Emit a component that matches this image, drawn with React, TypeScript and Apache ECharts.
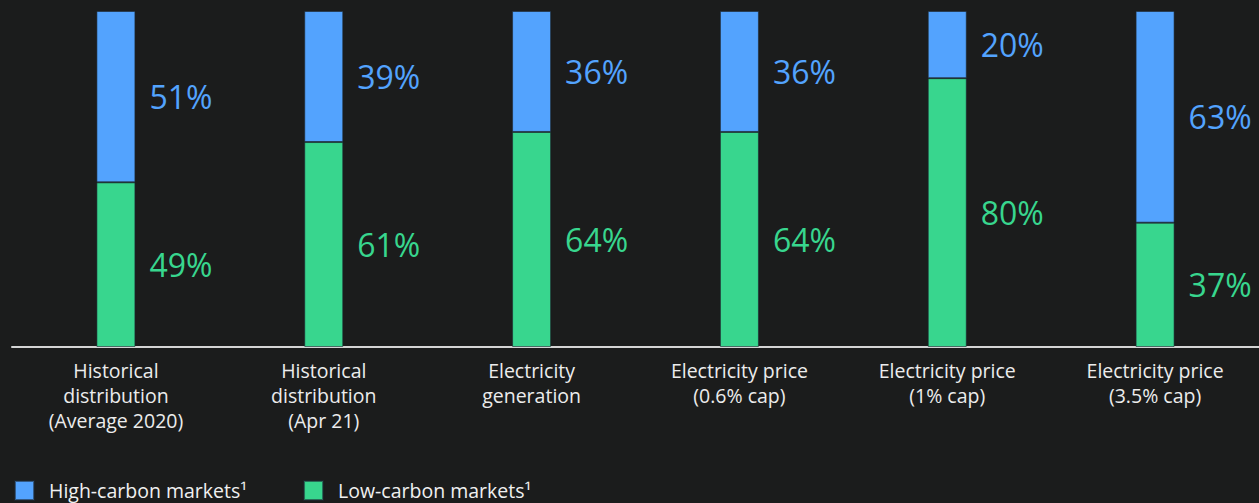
import React, { useEffect, useRef } from "react";
import * as echarts from "echarts";

const categories = [
  "Historical\ndistribution\n(Average 2020)",
  "Historical\ndistribution\n(Apr 21)",
  "Electricity\ngeneration",
  "Electricity price\n(0.6% cap)",
  "Electricity price\n(1% cap)",
  "Electricity price\n(3.5% cap)",
];
const lowCarbon = [49, 61, 64, 64, 80, 37];
const highCarbon = [51, 39, 36, 36, 20, 63];
const seriesNames = ["High-carbon markets\u00b9", "Low-carbon markets\u00b9"];

const BLUE = "#53a3fe";
const GREEN = "#38d68e";
const BG = "#1b1c1c";

export default function App() {
  const ref = useRef<HTMLDivElement>(null);
  useEffect(() => {
    document.body.style.margin = "0";
    const chart = echarts.init(ref.current!, null, { renderer: "svg" });
    const labelBase = {
      show: true,
      position: "right" as const,
      distance: 14,
      fontSize: 32,
      fontFamily: "Open Sans",
      formatter: "{c}%",
    };
    chart.setOption({
      animation: false,
      backgroundColor: BG,
      grid: { left: 12, right: 0, top: 11, bottom: 156, containLabel: false },
      legend: {
        left: 14,
        top: 480,
        padding: 0,
        itemWidth: 19,
        itemHeight: 19,
        itemGap: 56,
        icon: "rect",
        data: [seriesNames[0], seriesNames[1]],
        textStyle: {
          color: "#f0f0f0",
          fontSize: 19.5,
          lineHeight: 19,
          fontWeight: 500,
          fontFamily: "Open Sans",
          padding: [0, 0, 0, 10],
        },
      },
      xAxis: {
        type: "category",
        data: categories,
        axisLine: { show: true, lineStyle: { color: "#d4d4d4", width: 2 } },
        axisTick: { show: false },
        axisLabel: {
          interval: 0,
          color: "#ececec",
          fontSize: 19.5,
          fontWeight: 500,
          lineHeight: 25,
          fontFamily: "Open Sans",
          margin: 11,
        },
      },
      yAxis: { type: "value", min: 0, max: 100, show: false, splitLine: { show: false } },
      series: [
        {
          name: seriesNames[1],
          type: "bar",
          stack: "total",
          data: lowCarbon,
          barWidth: 39,
          itemStyle: { color: GREEN, borderColor: "rgba(30,40,50,0.6)", borderWidth: 1 },
          label: { ...labelBase, color: GREEN },
        },
        {
          name: seriesNames[0],
          type: "bar",
          stack: "total",
          data: highCarbon,
          barWidth: 39,
          itemStyle: { color: BLUE, borderColor: "rgba(30,40,50,0.6)", borderWidth: 1 },
          label: { ...labelBase, color: BLUE },
        },
      ],
    });
    return () => chart.dispose();
  }, []);
  return (
    <div
      ref={ref}
      style={{ position: "absolute", left: 0, top: 0, width: 1259, height: 503, background: BG }}
    />
  );
}
